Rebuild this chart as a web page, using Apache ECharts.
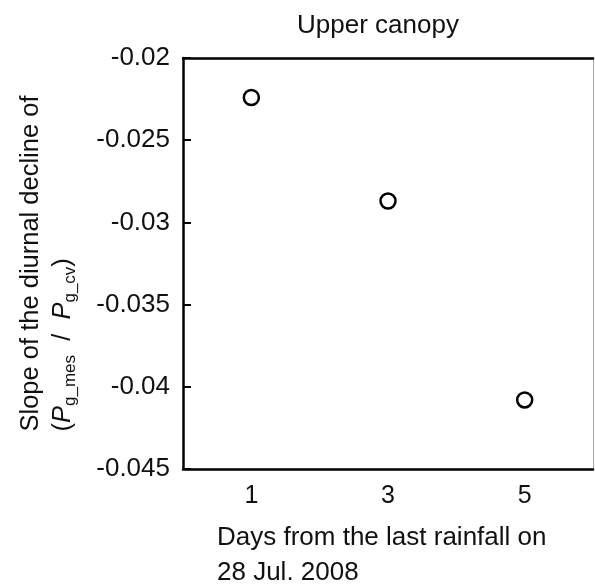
<!DOCTYPE html>
<html>
<head>
<meta charset="utf-8">
<script src="https://cdn.jsdelivr.net/npm/echarts@6/dist/echarts.min.js"></script>
<style>
  html, body { margin: 0; padding: 0; background: #fff; }
  #chart { width: 595px; height: 585px; }
</style>
</head>
<body>
<div id="chart"></div>
<script>
// days after last rain and slope of diurnal decline
const days = ["1", "3", "5"];
const slopes = [-0.0224, -0.0287, -0.0408];
const yMin = -0.045;
const yMax = -0.02;
const yStep = 0.005;

const font = "Liberation Sans";
const ink = "#111";

let myChart = echarts.init(document.getElementById("chart"));

let option = {
  backgroundColor: "#fff",
  title: [
    {
      text: "Upper canopy",
      left: 292,
      top: 8,
      textStyle: { fontFamily: font, fontSize: 26, fontWeight: "normal", color: ink }
    },
    {
      text: "Days from the last rainfall on\n28 Jul. 2008",
      left: 212,
      top: 515,
      textStyle: { fontFamily: font, fontSize: 26, fontWeight: "normal", color: ink, lineHeight: 35 }
    }
  ],
  grid: { left: 183, right: 2, top: 58, bottom: 116 },
  xAxis: [
    {
      type: "category",
      data: days,
      boundaryGap: true,
      axisLine: { lineStyle: { color: "#000", width: 2.5 } },
      axisTick: { inside: true, length: 8, alignWithLabel: true, lineStyle: { color: "#000", width: 2 } },
      axisLabel: { margin: 15, fontFamily: font, fontSize: 25, color: ink }
    },
    {
      type: "category",
      data: days,
      position: "top",
      axisLine: { lineStyle: { color: "#000", width: 2.5 } },
      axisTick: { show: false },
      axisLabel: { show: false }
    }
  ],
  yAxis: [
    {
      type: "value",
      min: yMin,
      max: yMax,
      interval: yStep,
      splitLine: { show: false },
      axisLine: { show: true, onZero: false, lineStyle: { color: "#000", width: 2.5 } },
      axisTick: { show: true, inside: true, length: 8, lineStyle: { color: "#000", width: 2 } },
      axisLabel: {
        margin: 13,
        fontFamily: font,
        fontSize: 26,
        color: ink,
        formatter: v => String(Number(v.toFixed(3)))
      },
      name: "{t|Slope of the diurnal decline of}\n{t|(}{i|P}{s|g_mes}{t|  /  }{i|P}{s|g_cv}{t|)}",
      nameLocation: "middle",
      nameRotate: 90,
      nameGap: 104,
      nameTextStyle: {
        fontFamily: font,
        color: ink,
        rich: {
          t: { fontFamily: font, fontSize: 25.5, color: ink, lineHeight: 32, align: "left" },
          i: { fontFamily: font, fontSize: 25.5, color: ink, lineHeight: 32, fontStyle: "italic", align: "left" },
          s: { fontFamily: font, fontSize: 17, color: ink, lineHeight: 17, padding: [15, 0, 0, 0], align: "left" }
        }
      }
    },
    {
      type: "value",
      min: yMin,
      max: yMax,
      interval: yStep,
      position: "right",
      splitLine: { show: false },
      axisLine: { show: true, onZero: false, lineStyle: { color: "#aaa", width: 1 } },
      axisTick: { show: false },
      axisLabel: { show: false }
    }
  ],
  series: [
    {
      type: "scatter",
      data: slopes,
      symbol: "circle",
      symbolSize: 15,
      itemStyle: { color: "#fff", borderColor: "#000", borderWidth: 2.5, opacity: 1 },
      silent: true
    }
  ]
};
myChart.setOption(option);
window.addEventListener("resize", () => myChart.resize(), false);
</script>
</body>
</html>
